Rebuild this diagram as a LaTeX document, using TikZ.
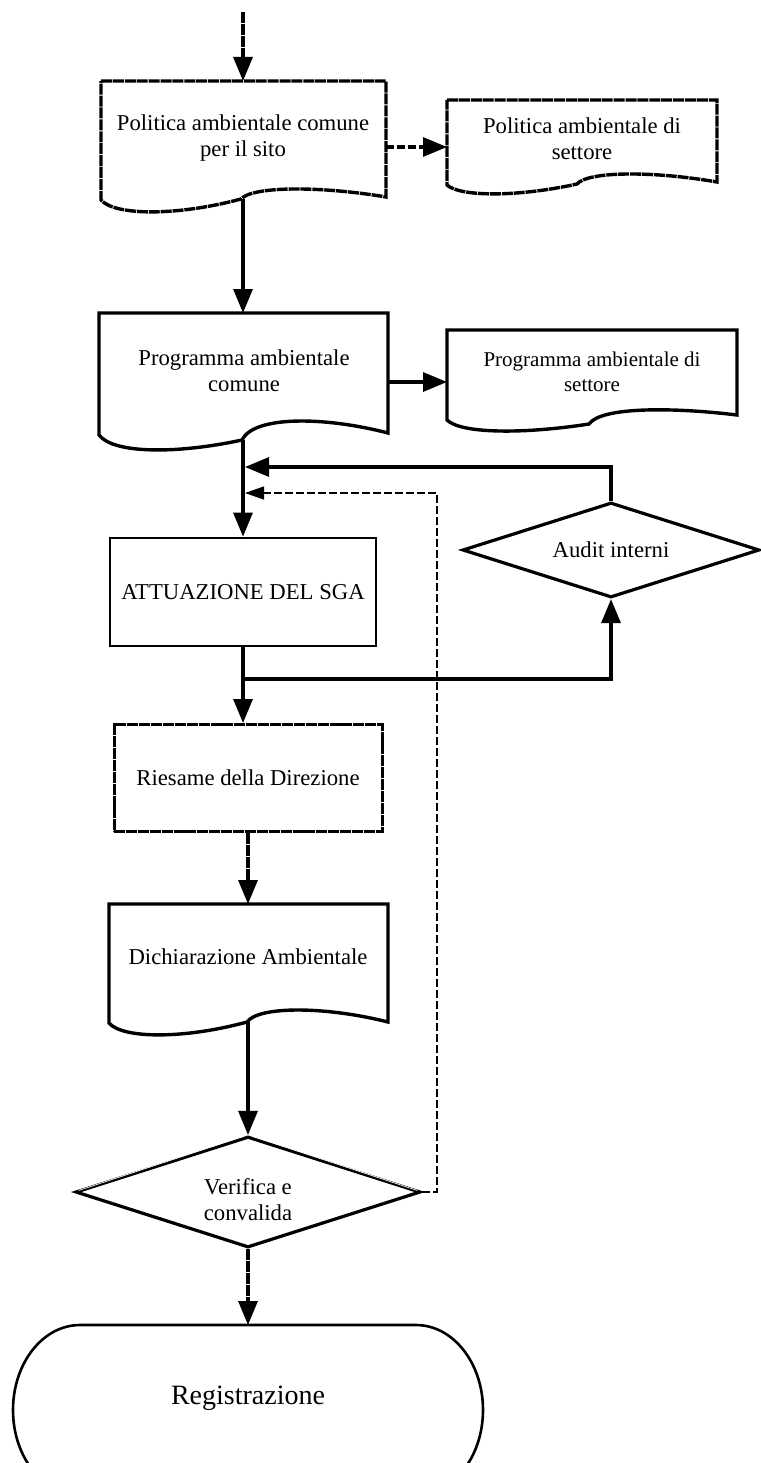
\documentclass[tikz,border=0pt]{standalone}
\usepackage{fontspec}
\setmainfont{Liberation Serif}
\usetikzlibrary{arrows.meta,shapes.geometric}
% document outline: L, T, R, yright, xcusp, ycusp, ctrl-peak, ctrl-low, yleft
\newcommand{\docshape}[9]{%
  \pgfmathsetmacro\dsA{#3-#5}%
  \pgfmathsetmacro\dsB{#5-#1}%
  \pgfmathsetmacro\dsAx{#3-0.45*\dsA}%
  \pgfmathsetmacro\dsBx{#5+0.08*\dsA}%
  \pgfmathsetmacro\dsCx{#5-0.45*\dsB}%
  \pgfmathsetmacro\dsDx{#1+0.1*\dsB}%
  \draw[doccur] (#1,#2) -- (#3,#2) -- (#3,#4) .. controls (\dsAx,#7) and (\dsBx,#7) .. (#5,#6) .. controls (\dsCx,#8) and (\dsDx,#8) .. (#1,#9) -- cycle;}
\begin{document}
\begin{tikzpicture}[x=1pt,y=-1pt,
  conn/.style={line width=3.2pt},
  arr/.style={-{Triangle[length=24pt,width=19pt]}},
  arrs/.style={-{Triangle[length=19pt,width=13pt]}},
  ldash/.style={dash pattern=on 11pt off 0.9pt},
  mdash/.style={dash pattern=on 8pt off 3pt},
  thindash/.style={line width=1.3pt,dash pattern=on 8pt off 3pt},
  docsolid/.style={line width=3.4pt,line join=miter},
  docdash/.style={line width=3.4pt,line join=miter,ldash},
  txt/.style={font=\fontsize{22.7pt}{26pt}\selectfont,align=center,inner sep=0pt},
  dia/.style={diamond,draw,line width=3.2pt,aspect=3,inner sep=0pt}]
\useasboundingbox (0,0) rectangle (760,1463);
\fill[white] (0,0) rectangle (760,1463);

% document shapes
\tikzset{doccur/.style={docdash}}
\docshape{101}{81}{386}{197}{241}{199}{186}{216}{200}
\docshape{447}{100}{717}{182}{577}{184}{171}{197}{185}
\tikzset{doccur/.style={docsolid}}
\docshape{99}{313}{388}{433}{242}{440}{416}{454}{435}
\docshape{447}{330}{737}{415}{589}{424}{407}{434}{420}
\docshape{109}{904}{388}{1022}{247}{1022}{1006}{1039}{1023}

% texts / nodes
\node[txt] (b1) at (243,138) {Politica ambientale comune\\per il sito};
\node[txt] (b2) at (582,139) {Politica ambientale di\\settore};
\node[txt] (b3) at (244,371) {Programma ambientale\\comune};
\node[txt,font=\fontsize{21pt}{25pt}\selectfont] (b4) at (592,372) {Programma ambientale di\\settore};
\node[txt,draw,line width=2.8pt,minimum width=266pt,minimum height=108pt] (att) at (243,592) {ATTUAZIONE DEL SGA};
\node[dia,txt,draw,minimum width=297pt,minimum height=95pt] (aud) at (611,550) {Audit interni};
\node[txt,draw,line width=3pt,ldash,minimum width=268pt,minimum height=107pt] (ries) at (248,778) {Riesame della Direzione};
\node[txt] (b5) at (248,957) {Dichiarazione Ambientale};
\node[dia,minimum width=345pt,minimum height=111pt] (ver) at (248,1192) {};
\draw[white,line width=0.7pt,shorten <=5pt,shorten >=5pt] (ver.west) -- (ver.north);
\draw[white,line width=0.7pt,shorten <=5pt,shorten >=5pt] (ver.north) -- (ver.east);
\node[txt] (vtx) at (248,1200) {Verifica e\\convalida};
\draw[line width=2.6pt] (80,1325) -- (416,1325) .. controls (453,1325) and (483,1363) .. (483,1410) .. controls (483,1457) and (453,1495) .. (416,1495) -- (80,1495) .. controls (43,1495) and (13,1457) .. (13,1410) .. controls (13,1363) and (43,1325) .. (80,1325) -- cycle;
\node[txt,font=\fontsize{28pt}{32pt}\selectfont] (reg) at (248,1398) {Registrazione};

% contact points
\coordinate (in0) at (243,12);
\coordinate (b1top) at (243,81);
\coordinate (b1r) at (386,147);
\coordinate (b2l) at (447,147);
\coordinate (b1cusp) at (243,199);
\coordinate (b3top) at (243,313);
\coordinate (b3r) at (388,382);
\coordinate (b4l) at (447,382);
\coordinate (b3cusp) at (243,440);
\coordinate (fb1) at (245,467);
\coordinate (fb2) at (245,493);
\coordinate (brk) at (243,679);
\coordinate (dr) at (437,1192);
\coordinate (b5top) at (248,904);
\coordinate (b5cusp) at (248,1022);
\coordinate (regtop) at (248,1325);

% connectors
\draw[conn,ldash,arr] (in0) -- (b1top);
\draw[conn,mdash,arr] (b1r) -- (b2l);
\draw[conn,arr] (b1cusp) -- (b3top);
\draw[conn,arr] (b3r) -- (b4l);
\draw[conn,arr] (b3cusp) -- (att.north);
\draw[conn,arr] (aud.north) |- (fb1);
\draw[thindash,arrs] (ver.east) -- (dr) |- (fb2);
\draw[conn,arr] (att.south) -- (att.south |- ries.north);
\draw[conn,arr] (brk) -| (aud.south);
\draw[conn,ldash,arr] (ries.south) -- (b5top);
\draw[conn,arr] (b5cusp) -- (ver.north);
\draw[conn,ldash,arr] (ver.south) -- (regtop);
\end{tikzpicture}
\end{document}
